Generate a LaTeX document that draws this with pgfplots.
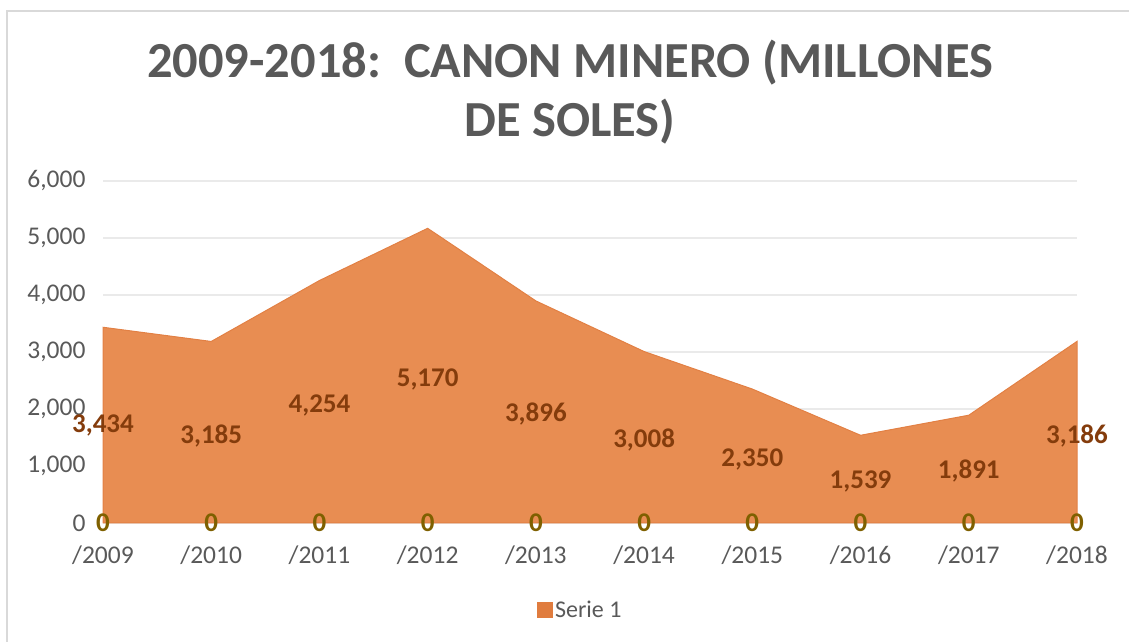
\documentclass[border=0pt]{standalone}
\usepackage{pgfplots}
\pgfplotsset{compat=1.18}
\usepackage{pgfplotstable}
\usepackage{fontspec}
\setmainfont{Carlito}
\definecolor{areafill}{RGB}{232,141,82}
\definecolor{areaedge}{RGB}{226,128,68}
\definecolor{legfill}{RGB}{224,124,62}
\definecolor{labbrown}{RGB}{132,60,12}
\definecolor{labolive}{RGB}{127,96,0}
\definecolor{txtgray}{RGB}{89,89,89}
\definecolor{gridgray}{RGB}{234,234,234}
\definecolor{framegray}{RGB}{217,217,217}

\pgfplotstableread{
x v
2009 3434
2010 3185
2011 4254
2012 5170
2013 3896
2014 3008
2015 2350
2016 1539
2017 1891
2018 3186
}\canon

\pgfplotstableread{
x ly v
2009 1719 3434
2010 1526 3185
2011 2070 4254
2012 2526 5170
2013 1912 3896
2014 1456 3008
2015 1123 2350
2016 737 1539
2017 912 1891
2018 1526 3186
}\labels

\begin{document}
\begin{tikzpicture}[x=1pt,y=1pt]
\useasboundingbox (0,0) rectangle (1129,642);
% chart frame
\draw[framegray, line width=2pt] (7,0) -- (7,631) -- (1129,631);
% title
\node[text=txtgray, font=\fontsize{50.5}{58}\selectfont\bfseries] at (570,579) {2009-2018:\ \ CANON MINERO (MILLONES};
\node[text=txtgray, font=\fontsize{50.5}{58}\selectfont\bfseries] at (570,520) {DE SOLES)};
\begin{axis}[
  at={(103pt,119pt)}, anchor=south west,
  scale only axis, width=974pt, height=342pt,
  xmin=2009, xmax=2018, ymin=0, ymax=6000,
  axis line style={draw=none},
  major tick length=0pt,
  ytick={0,1000,2000,3000,4000,5000,6000},
  xtick={2009,2010,2011,2012,2013,2014,2015,2016,2017,2018},
  xticklabels={/2009,/2010,/2011,/2012,/2013,/2014,/2015,/2016,/2017,/2018},
  ymajorgrids, grid style={gridgray, line width=1.2pt},
  /pgf/number format/assume math mode=true,
  /pgf/number format/.cd, fixed, precision=0, 1000 sep={,}, /pgfplots/.cd,
  tick label style={font=\fontsize{25.5}{30}\selectfont, text=txtgray},
  yticklabel style={xshift=-14pt},
  xticklabel style={yshift=-19pt},
  legend style={at={(0.49,-0.254)}, anchor=center, draw=none, fill=none,
    font=\fontsize{24}{28}\selectfont, text=txtgray},
  legend image code/.code={\fill[legfill] (0pt,-7.5pt) rectangle (15pt,7.5pt);},
  clip=false,
]
\addplot[fill=areafill, draw=areaedge, line width=1pt] table[x=x, y=v] {\canon} \closedcycle;
\addlegendentry{Serie 1}
\addplot[only marks, mark=none, forget plot,
  nodes near coords={\pgfmathprintnumber[fixed,precision=0,1000 sep={,},assume math mode=true]{\pgfplotspointmeta}},
  point meta=explicit,
  every node near coord/.append style={anchor=center, text=labbrown, font=\fontsize{27}{32}\selectfont\bfseries}]
  table[x=x, y=ly, meta=v] {\labels};
\addplot[only marks, mark=none, forget plot,
  nodes near coords={0},
  every node near coord/.append style={anchor=center, text=labolive, font=\fontsize{27}{32}\selectfont\bfseries}]
  table[x=x, y expr=0] {\canon};
\end{axis}
\end{tikzpicture}
\end{document}
